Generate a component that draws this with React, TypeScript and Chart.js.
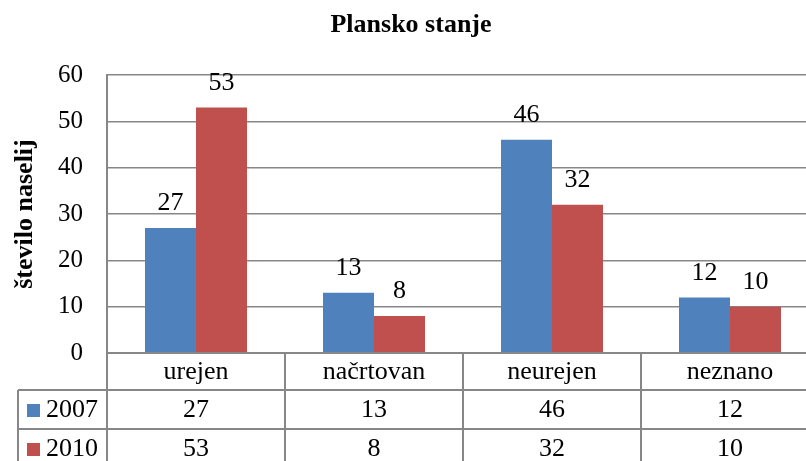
import { useEffect, useRef } from "react";
import { Chart, registerables } from "chart.js";

Chart.register(...registerables);

const chartTitle = "Plansko stanje";
const yAxisTitle = "število naselij";
const categories = ["urejen", "načrtovan", "neurejen", "neznano"];
const seriesNames = ["2007", "2010"];
const values2007 = [27, 13, 46, 12];
const values2010 = [53, 8, 32, 10];
const seriesColors = ["#4F81BD", "#C0504D"];
const yMin = 0;
const yMax = 60;
const yStep = 10;

const FONT = '"Liberation Serif", "Times New Roman", serif';
const GRID = "#878787";

const overlay = {
  id: "overlay",
  afterDatasetsDraw(chart: any) {
    const ctx = chart.ctx;
    ctx.save();
    ctx.fillStyle = "#000";
    ctx.font = `26px ${FONT}`;
    ctx.textAlign = "center";
    ctx.textBaseline = "alphabetic";
    chart.data.datasets.forEach((ds: any, di: number) => {
      const meta = chart.getDatasetMeta(di);
      meta.data.forEach((bar: any, i: number) => {
        ctx.fillText(String(ds.data[i]), bar.x, bar.y - 17.5);
      });
    });
    ctx.restore();
  },
  afterDraw(chart: any) {
    const ctx = chart.ctx;
    const area = chart.chartArea;
    const xs = chart.scales.x;
    const n = chart.data.labels.length;
    const catW = (xs.getPixelForValue(1) - xs.getPixelForValue(0));
    const left = area.left;
    const right = area.right;
    const legendLeft = 18;
    const rowTops = [area.bottom, area.bottom + 37, area.bottom + 76, area.bottom + 115];
    ctx.save();
    // title
    ctx.fillStyle = "#000";
    ctx.font = `bold 26px ${FONT}`;
    ctx.textAlign = "center";
    ctx.textBaseline = "middle";
    ctx.fillText(chartTitle, chart.width / 2, 25);
    // y axis title
    ctx.save();
    ctx.translate(25, (area.top + area.bottom) / 2);
    ctx.rotate(-Math.PI / 2);
    ctx.font = `bold 26px ${FONT}`;
    ctx.fillText(yAxisTitle, 0, 0);
    ctx.restore();
    // table lines
    ctx.strokeStyle = GRID;
    ctx.lineWidth = 2;
    ctx.beginPath();
    ctx.moveTo(left, rowTops[0]);
    ctx.lineTo(right + 10, rowTops[0]);
    for (let r = 1; r <= 2; r++) {
      ctx.moveTo(legendLeft, rowTops[r]);
      ctx.lineTo(right + 10, rowTops[r]);
    }
    ctx.moveTo(legendLeft, rowTops[1]);
    ctx.lineTo(legendLeft, rowTops[3]);
    for (let k = 0; k <= n; k++) {
      const x = xs.getPixelForValue(k) - catW / 2;
      ctx.moveTo(x, rowTops[0]);
      ctx.lineTo(x, rowTops[3]);
    }
    ctx.stroke();
    // header labels
    ctx.font = `26px ${FONT}`;
    ctx.textAlign = "center";
    ctx.textBaseline = "middle";
    chart.data.labels.forEach((lab: string, i: number) => {
      ctx.fillText(lab, xs.getPixelForValue(i), (rowTops[0] + rowTops[1]) / 2 + 1);
    });
    // data rows
    chart.data.datasets.forEach((ds: any, di: number) => {
      const cy = (rowTops[di + 1] + rowTops[di + 2]) / 2 + 1;
      ctx.fillStyle = ds.backgroundColor;
      ctx.fillRect(27, cy - 6.5, 13, 13);
      ctx.fillStyle = "#000";
      ctx.textAlign = "left";
      ctx.fillText(ds.label, 46, cy);
      ctx.textAlign = "center";
      ds.data.forEach((v: number, i: number) => {
        ctx.fillText(String(v), xs.getPixelForValue(i), cy);
      });
    });
    ctx.restore();
  },
};

export default function App() {
  const ref = useRef<HTMLCanvasElement>(null);
  useEffect(() => {
    if (!ref.current) return;
    const chart = new Chart(ref.current, {
      type: "bar",
      data: {
        labels: categories,
        datasets: [
          { label: seriesNames[0], data: values2007, backgroundColor: seriesColors[0] },
          { label: seriesNames[1], data: values2010, backgroundColor: seriesColors[1] },
        ],
      },
      options: {
        responsive: false,
        animation: false,
        devicePixelRatio: 1,
        layout: { padding: { left: 0, top: 75, right: 3, bottom: 108 } },
        datasets: { bar: { categoryPercentage: 0.573, barPercentage: 1 } },
        plugins: {
          legend: { display: false },
          title: { display: false },
          tooltip: { enabled: false },
        },
        scales: {
          x: { display: false },
          y: {
            min: yMin,
            max: yMax,
            ticks: {
              stepSize: yStep,
              padding: 24,
              color: "#000",
              font: { family: FONT, size: 25 },
            },
            grid: { color: GRID, lineWidth: 1.4, drawTicks: false },
            border: { display: true, color: GRID, width: 2 },
            afterFit: (scale: any) => {
              scale.width = 107;
            },
          },
        },
      },
      plugins: [overlay],
    });
    return () => chart.destroy();
  }, []);
  return (
    <div style={{ position: "fixed", left: 0, top: 0, width: 806, height: 461, overflow: "hidden", background: "#fff" }}>
      <canvas ref={ref} width={822} height={461} style={{ display: "block" }} />
    </div>
  );
}
